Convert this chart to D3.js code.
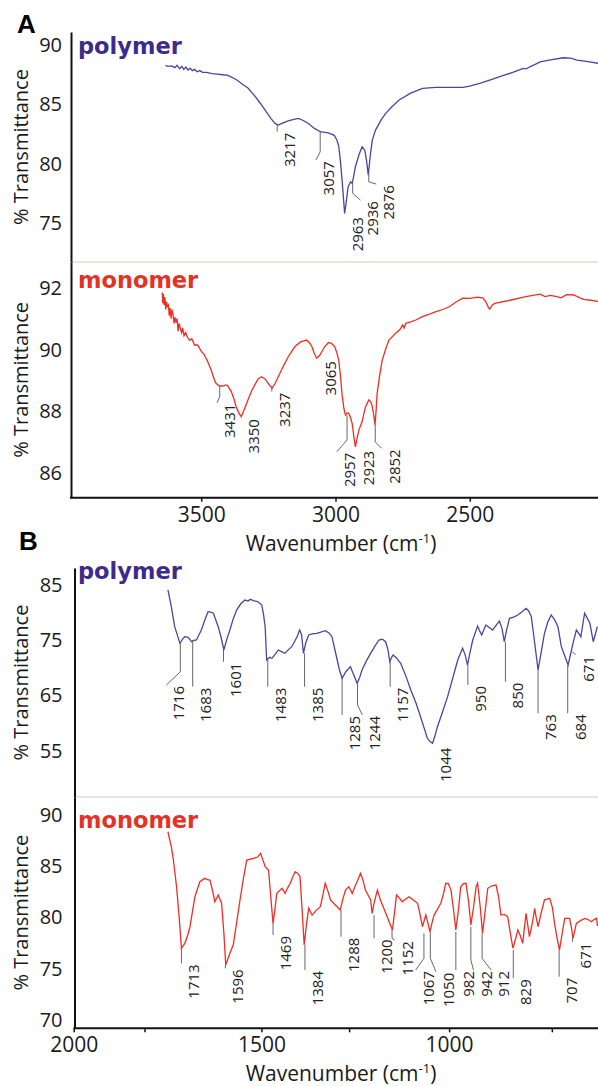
<!DOCTYPE html>
<html>
<head>
<meta charset="utf-8">
<script src="https://cdn.jsdelivr.net/npm/d3@7"></script>
<style>
  body { margin: 0; background: #fff; }
  svg { display: block; font-family: "Open Sans", sans-serif; }
</style>
</head>
<body>
<svg id="chart" width="598" height="1086"></svg>
<script>
// ---- data: [wavenumber, % transmittance] ----
const polyA = [[3633,88.3],[3625,88.2],[3610,88.25],[3598,88.1],[3590,88.3],[3580,88.0],[3572,88.2],[3565,87.95],[3557,88.15],[3549,87.9],[3541,88.05],[3533,87.85],[3525,87.95],[3515,87.75],[3505,87.85],[3495,87.7],[3480,87.7],[3460,87.6],[3440,87.55],[3420,87.5],[3400,87.45],[3370,87.1],[3340,86.6],[3326,86.38],[3300,85.7],[3280,85.1],[3262,84.52],[3240,83.8],[3225,83.4],[3213,83.26],[3195,83.45],[3176,83.62],[3155,83.75],[3138,83.82],[3120,83.65],[3101,83.4],[3080,83.0],[3057,82.7],[3040,82.65],[3026,82.61],[3005,82.4],[2995,82.0],[2988,81.5],[2982,80.31],[2975,78.5],[2970,77.0],[2966,75.82],[2960,76.8],[2953,78.06],[2944,78.48],[2938,78.35],[2932,79.0],[2926,79.75],[2912,80.8],[2901,81.43],[2891,81.15],[2884,80.2],[2878,79.05],[2870,80.8],[2863,82.0],[2851,82.84],[2830,83.7],[2813,84.25],[2790,84.8],[2763,85.37],[2720,85.95],[2676,86.35],[2626,86.44],[2576,86.44],[2526,86.44],[2501,86.55],[2460,86.8],[2426,87.05],[2380,87.4],[2340,87.7],[2301,88.04],[2290,88.0],[2276,88.17],[2238,88.59],[2200,88.75],[2151,88.93],[2125,88.9],[2101,88.74],[2060,88.6],[2021,88.46]];

const monoA = [[3645,91.85],[3643,91.5],[3641,91.8],[3638,91.45],[3635,91.7],[3632,91.3],[3629,91.55],[3626,91.4],[3622,91.45],[3619,91.1],[3616,91.35],[3612,91.0],[3609,91.3],[3605,91.15],[3601,90.85],[3598,91.05],[3594,90.9],[3590,91.0],[3586,90.6],[3582,90.85],[3578,90.7],[3573,90.55],[3569,90.7],[3564,90.45],[3558,90.55],[3551,90.4],[3543,90.3],[3535,90.35],[3525,90.15],[3513,90.15],[3500,89.95],[3488,89.83],[3475,89.6],[3463,89.34],[3450,89.0],[3445,88.91],[3432,88.82],[3420,88.82],[3410,88.85],[3403,88.85],[3396,88.75],[3388,88.64],[3378,88.4],[3370,88.15],[3360,87.95],[3351,87.83],[3340,88.05],[3326,88.37],[3313,88.65],[3301,88.85],[3288,89.05],[3276,89.12],[3262,89.05],[3251,88.91],[3236,88.75],[3225,88.9],[3213,89.12],[3195,89.45],[3176,89.77],[3151,90.1],[3130,90.25],[3107,90.31],[3095,90.2],[3088,90.1],[3080,89.9],[3070,89.72],[3060,89.8],[3051,89.93],[3040,90.1],[3026,90.23],[3015,90.2],[3003,90.1],[2995,89.9],[2988,89.66],[2982,89.2],[2976,88.58],[2969,88.1],[2963,87.88],[2957,87.95],[2951,87.94],[2944,87.8],[2938,87.61],[2932,87.2],[2926,86.85],[2919,87.15],[2913,87.39],[2901,87.66],[2895,87.9],[2888,88.15],[2876,88.37],[2868,88.3],[2863,88.15],[2858,87.9],[2853,87.56],[2849,88.0],[2845,88.58],[2835,89.2],[2826,89.66],[2812,90.05],[2801,90.31],[2776,90.53],[2760,90.65],[2750,90.8],[2745,90.7],[2738,90.85],[2720,90.9],[2701,90.96],[2676,91.07],[2650,91.15],[2626,91.23],[2600,91.3],[2576,91.39],[2550,91.55],[2526,91.67],[2500,91.66],[2470,91.7],[2451,91.67],[2440,91.55],[2430,91.35],[2426,91.31],[2416,91.45],[2407,91.5],[2350,91.6],[2300,91.7],[2276,91.74],[2238,91.8],[2220,91.72],[2200,91.76],[2176,91.72],[2160,91.68],[2140,91.78],[2113,91.77],[2090,91.68],[2076,91.63],[2050,91.6],[2021,91.56]];

const polyB = [[1749,84.1],[1740,81.1],[1731,77.45],[1717,74.44],[1710,75.2],[1704,75.64],[1695,75.53],[1686,74.73],[1679,75.0],[1673,75.04],[1660,76.85],[1650,78.8],[1642,80.17],[1635,80.1],[1628,79.88],[1615,77.45],[1607,75.4],[1600,73.23],[1592,75.2],[1584,76.85],[1575,78.9],[1566,80.47],[1555,81.6],[1544,82.28],[1535,82.1],[1530,82.4],[1521,82.16],[1510,82.0],[1499,81.38],[1494,79.5],[1490,77.45],[1486,71.42],[1478,71.9],[1472,71.73],[1463,72.5],[1455,73.23],[1445,72.9],[1437,72.63],[1428,73.3],[1419,73.83],[1405,75.64],[1398,76.85],[1393,76.0],[1388,72.63],[1382,74.5],[1374,75.95],[1362,76.2],[1352,76.25],[1340,76.5],[1330,76.73],[1320,76.3],[1312,75.64],[1305,73.5],[1298,71.42],[1292,69.6],[1285,68.11],[1275,69.3],[1263,70.21],[1255,68.9],[1245,67.2],[1238,68.3],[1232,69.61],[1220,71.3],[1209,72.63],[1198,73.9],[1187,75.04],[1178,75.2],[1169,74.73],[1163,73.3],[1158,71.11],[1153,71.9],[1149,72.33],[1140,71.8],[1129,70.82],[1115,68.5],[1102,65.99],[1088,63.6],[1076,61.15],[1066,59.0],[1058,57.24],[1050,56.6],[1044,56.34],[1038,57.6],[1031,59.34],[1018,61.9],[1004,64.78],[990,68.2],[977,71.42],[964,73.54],[957,72.3],[951,70.51],[944,72.9],[937,75.04],[924,77.58],[918,76.6],[913,75.95],[907,77.0],[902,77.76],[893,77.3],[884,76.85],[875,77.7],[866,78.48],[859,77.1],[853,74.73],[847,76.8],[839,78.97],[828,79.2],[817,79.57],[805,80.2],[795,80.78],[788,80.3],[781,79.26],[772,74.5],[763,69.61],[755,72.7],[746,76.25],[737,78.3],[728,79.57],[718,78.6],[710,77.45],[701,73.83],[692,72.2],[683,70.51],[676,72.6],[670,74.44],[661,76.85],[655,76.3],[649,75.64],[644,77.8],[639,79.88],[632,79.0],[625,78.07],[616,74.73],[605,77.45]];

const monoB = [[1749,88.37],[1740,86.91],[1735,85.78],[1726,83.0],[1719,80.0],[1713,77.0],[1704,77.48],[1697,78.2],[1691,78.95],[1684,80.5],[1677,82.03],[1664,83.49],[1651,83.82],[1644,83.7],[1637,83.66],[1630,82.6],[1624,81.54],[1615,82.2],[1606,81.39],[1600,78.5],[1595,75.37],[1584,76.51],[1575,77.32],[1566,79.5],[1557,81.71],[1548,83.8],[1539,85.61],[1521,85.78],[1510,85.9],[1502,86.26],[1495,85.5],[1490,84.96],[1481,84.63],[1475,82.0],[1469,79.43],[1465,80.5],[1459,82.36],[1445,82.85],[1437,82.36],[1430,82.9],[1423,83.34],[1416,84.0],[1410,84.47],[1403,84.3],[1397,83.98],[1392,81.0],[1386,77.32],[1380,79.3],[1374,80.9],[1365,80.24],[1354,80.7],[1343,81.05],[1336,82.2],[1330,83.34],[1322,82.5],[1316,81.71],[1303,81.22],[1290,80.73],[1283,81.8],[1276,82.68],[1267,83.0],[1258,82.36],[1251,83.0],[1245,83.49],[1236,84.31],[1229,83.6],[1223,82.68],[1209,81.71],[1205,80.41],[1199,81.54],[1191,82.68],[1183,81.71],[1174,80.9],[1165,80.08],[1151,78.78],[1145,80.6],[1140,82.2],[1132,81.9],[1125,81.54],[1107,82.03],[1095,81.7],[1084,81.39],[1078,80.4],[1071,79.1],[1062,80.24],[1056,79.4],[1051,78.61],[1046,79.4],[1040,80.24],[1022,81.39],[1015,82.3],[1009,83.34],[1002,83.3],[995,82.68],[989,81.0],[982,78.78],[975,80.8],[969,83.0],[962,83.3],[955,83.34],[948,81.5],[942,79.27],[935,81.0],[928,83.0],[924,83.34],[917,81.0],[911,78.46],[904,80.6],[897,82.85],[886,83.1],[875,83.17],[868,82.0],[862,80.24],[853,80.3],[844,80.08],[837,78.5],[830,77.0],[823,77.9],[817,78.78],[810,78.2],[804,77.48],[795,80.41],[786,78.13],[778,79.5],[772,80.9],[768,80.0],[763,79.1],[755,80.4],[746,81.71],[732,81.87],[725,81.0],[719,79.43],[712,77.9],[706,76.83],[699,78.4],[692,79.92],[679,79.92],[674,79.0],[670,77.97],[661,79.43],[650,79.7],[639,79.92],[630,79.8],[621,79.59],[614,79.8],[607,79.92],[605,79.17]];

// peak labels: [peak, value at curve, value at knee, wavenumber at label, value at label]
const polyAPeaks = [[3217,83.26,82.70,3217,82.70],[3057,82.70,81.01,3073,80.31],[2963,75.6,75.6,2963,75.6],[2936,78.48,77.51,2907,76.94],[2876,79.19,78.48,2848,78.29]];
const monoAPeaks = [[3431,88.82,88.47,3441,88.28],[3350,87.78,87.78,3350,87.78],[3237,88.8,88.64,3237,88.64],[3065,89.66,89.66,3065,89.66],[2957,87.88,87.07,2995,86.69],[2923,86.75,86.75,2923,86.75],[2852,87.56,87.01,2828,86.8]];
const polyBPeaks = [[1716,74.44,69.3,1753,66.89],[1683,75.04,66.59,1683,66.59],[1601,73.23,71.11,1601,71.11],[1483,71.42,66.59,1483,66.59],[1385,72.63,66.59,1385,66.59],[1285,68.11,61.46,1285,61.46],[1244,67.2,63.27,1231,61.46],[1157,71.11,66.59,1157,66.59],[1044,55.72,55.72,1044,55.72],[950,70.51,66.89,950,66.89],[850,74.73,67.49,850,67.49],[763,69.61,61.77,763,61.77],[684,70.51,61.77,684,61.77],[671,72.92,72.92,663,72.33]];
const monoBPeaks = [[1713,77.0,75.53,1713,75.53],[1596,75.37,75.04,1596,75.04],[1469,79.43,78.29,1469,78.29],[1384,77.32,74.88,1384,74.88],[1288,80.73,78.13,1288,78.13],[1200,80.24,77.97,1200,77.97],[1152,78.78,77.97,1145,77.8],[1067,78.46,76.02,1089,74.88],[1050,78.61,76.02,1035,74.71],[982,78.61,74.88,982,74.88],[942,79.1,75.85,935,74.88],[912,78.46,76.0,888,74.88],[829,76.83,74.07,829,74.07],[707,76.83,74.22,707,74.22],[671,78.13,77.64,671,77.64]];

// tick labels
const polyATicks = [75, 80, 85, 90];
const monoATicks = [86, 88, 90, 92];
const polyBTicks = [55, 65, 75, 85];
const monoBTicks = [70, 75, 80, 85, 90];
const xATicks = [3500, 3000, 2500];
const xBTicks = [2000, 1500, 1000];
const xBMinor = [1810, 1265, 725];

const purple = "#3d2b8c", purpleLine = "#4a45a0";
const red = "#e53227", redLine = "#ee2e24";

const svg = d3.select("#chart");
svg.append("rect").attr("width", 598).attr("height", 1086).attr("fill", "#fff");

// scales
const xA = d3.scaleLinear().domain([4000, 2000]).range([66.9, 604.1]);
const xB = d3.scaleLinear().domain([2000, 500]).range([73.7, 636.8]);
const yPolyA = d3.scaleLinear().domain([91.1, 71.73]).range([32, 262]);
const yMonoA = d3.scaleLinear().domain([92.84, 85.2]).range([262, 497.7]);
const yPolyB = d3.scaleLinear().domain([88.08, 46.61]).range([568, 797]);
const yMonoB = d3.scaleLinear().domain([91.76, 69.19]).range([797, 1028.3]);

function drawSub(x, y, axisX, data, peaks, ticks, color, lineColor, name, nameY, pad) {
  const g = svg.append("g");

  g.append("g")
    .attr("transform", `translate(${axisX},0)`)
    .call(d3.axisLeft(y).tickValues(ticks).tickSize(0).tickPadding(pad))
    .call(a => a.select(".domain").attr("stroke", "#111").attr("stroke-width", 2))
    .call(a => a.selectAll("text").attr("font-size", 20).attr("fill", "#1a1a1a")
      .attr("font-family", "Open Sans"));

  g.append("path")
    .datum(data)
    .attr("fill", "none")
    .attr("stroke", lineColor)
    .attr("stroke-width", 1.3)
    .attr("d", d3.line().x(d => x(d[0])).y(d => y(d[1])));

  // leader lines from the band down to its label
  g.selectAll(".lead")
    .data(peaks.filter(p => p[1] !== p[4] || p[0] !== p[3]))
    .join("path")
    .attr("fill", "none")
    .attr("stroke", "#666")
    .attr("stroke-width", 1)
    .attr("d", p => `M${x(p[0])},${y(p[1])}L${x(p[0])},${y(p[2])}L${x(p[3])},${y(p[4])}`);

  g.selectAll(".peak")
    .data(peaks)
    .join("text")
    .attr("transform", p => `translate(${x(p[3]) + 18},${y(p[4]) + 1}) rotate(-90)`)
    .attr("text-anchor", "end")
    .attr("font-size", 15)
    .attr("fill", "#222")
    .text(p => p[0]);

  g.append("text")
    .attr("x", 78).attr("y", nameY)
    .attr("font-family", "DejaVu Sans").attr("font-weight", "bold")
    .attr("font-size", 22.5).attr("fill", color)
    .text(name);

  const mid = (y.range()[0] + y.range()[1]) / 2;
  g.append("text")
    .attr("transform", `translate(28,${mid}) rotate(-90)`)
    .attr("text-anchor", "middle")
    .attr("font-size", 20).attr("fill", "#1a1a1a")
    .text("% Transmittance");
}

function xAxis(x, yPos, ticks, minor, left, labelY) {
  const ax = svg.append("g")
    .attr("transform", `translate(0,${yPos})`)
    .call(d3.axisBottom(x).tickValues(ticks).tickFormat(d3.format("d")).tickSizeInner(4).tickSizeOuter(0).tickPadding(5));
  ax.select(".domain").attr("d", `M${left},0H598`).attr("stroke", "#111").attr("stroke-width", 2);
  ax.selectAll(".tick line").attr("stroke", "#111").attr("stroke-width", 1.5);
  ax.selectAll("text").attr("font-size", 21).attr("fill", "#1a1a1a").attr("font-family", "Open Sans");
  if (minor.length) {
    svg.append("g")
      .attr("transform", `translate(0,${yPos})`)
      .selectAll("line")
      .data(minor)
      .join("line")
      .attr("x1", d => x(d)).attr("x2", d => x(d))
      .attr("y1", 0).attr("y2", 4)
      .attr("stroke", "#111").attr("stroke-width", 1.5);
  }
  const t = svg.append("text")
    .attr("x", 341).attr("y", labelY)
    .attr("text-anchor", "middle")
    .attr("font-size", 21).attr("fill", "#1a1a1a");
  t.append("tspan").text("Wavenumber (cm");
  t.append("tspan").attr("dy", -8).attr("font-size", 13).text("-1");
  t.append("tspan").attr("dy", 8).text(")");
}

// separators between polymer and monomer traces
svg.append("line").attr("x1", 72).attr("x2", 598).attr("y1", 262).attr("y2", 262)
  .attr("stroke", "#ebe3e0").attr("stroke-width", 2);
svg.append("line").attr("x1", 76).attr("x2", 598).attr("y1", 797).attr("y2", 797)
  .attr("stroke", "#ebe3e0").attr("stroke-width", 2);

// panel A
drawSub(xA, yPolyA, 71, polyA, polyAPeaks, polyATicks, purple, purpleLine, "polymer", 54, 9);
drawSub(xA, yMonoA, 71, monoA, monoAPeaks, monoATicks, red, redLine, "monomer", 288, 9);
xAxis(xA, 497.7, xATicks, [], 70, 551);

// panel B
drawSub(xB, yPolyB, 74.5, polyB, polyBPeaks, polyBTicks, purple, purpleLine, "polymer", 579, 12);
drawSub(xB, yMonoB, 74.5, monoB, monoBPeaks, monoBTicks, red, redLine, "monomer", 828, 12);
xAxis(xB, 1028.3, xBTicks, xBMinor, 73.5, 1081);

// panel letters
svg.append("text").attr("x", 17).attr("y", 33)
  .attr("font-family", "Liberation Sans").attr("font-weight", "bold").attr("font-size", 26)
  .text("A");
svg.append("text").attr("x", 19).attr("y", 550)
  .attr("font-family", "Liberation Sans").attr("font-weight", "bold").attr("font-size", 26)
  .text("B");
</script>
</body>
</html>
